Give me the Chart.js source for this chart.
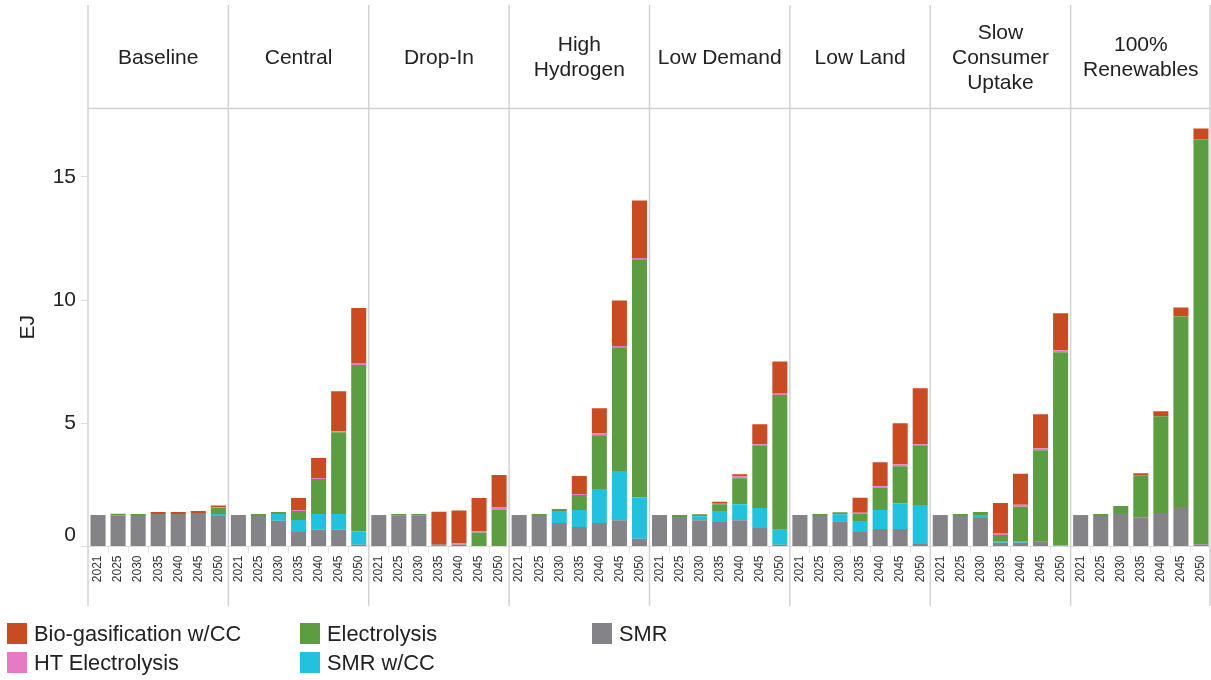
<!DOCTYPE html>
<html>
<head>
<meta charset="utf-8">
<script src="https://cdn.jsdelivr.net/npm/chart.js@4"></script>
<style>
  body { margin: 0; background: #fff; font-family: "Liberation Sans", Arial, sans-serif; }
  #wrap { position: relative; width: 1211px; height: 680px; }
  #legend { position: absolute; left: 0; top: 0; width: 1211px; height: 680px; pointer-events: none; }
  .item { position: absolute; height: 22px; line-height: 22px; font-size: 21.8px; color: #222; white-space: nowrap; }
  .item i { position: absolute; left: 0; top: 0; width: 20px; height: 21px; }
  .item span { position: absolute; left: 27px; top: 0; }
</style>
</head>
<body>
<div id="wrap">
  <canvas id="myChart" width="1211" height="680"></canvas>
  <div id="legend"></div>
</div>
<script>
// facets and years
const scenarios = ["Baseline", "Central", "Drop-In", "High\nHydrogen", "Low Demand", "Low Land", "Slow\nConsumer\nUptake", "100%\nRenewables"];
const years = ["2021", "2025", "2030", "2035", "2040", "2045", "2050"];
const yTicks = [0, 5, 10, 15];

// EJ, one row per scenario (same order as scenarios)
const smr = [
  [1.28, 1.27, 1.24, 1.32, 1.32, 1.36, 1.24],
  [1.28, 1.24, 1.05, 0.59, 0.68, 0.68, 0.07],
  [1.28, 1.25, 1.25, 0, 0, 0, 0],
  [1.28, 1.24, 0.95, 0.79, 0.95, 1.07, 0.31],
  [1.28, 1.20, 1.07, 0.99, 1.07, 0.75, 0.07],
  [1.28, 1.24, 1.03, 0.59, 0.71, 0.71, 0.10],
  [1.28, 1.24, 1.16, 0.15, 0.15, 0.18, 0],
  [1.28, 1.24, 1.32, 1.19, 1.36, 1.60, 0.08]
];
const smrCC = [
  [0, 0, 0, 0, 0, 0, 0.08],
  [0, 0, 0.27, 0.49, 0.64, 0.64, 0.54],
  [0, 0, 0, 0.07, 0, 0, 0],
  [0, 0, 0.49, 0.69, 1.38, 1.99, 1.69],
  [0, 0, 0.16, 0.45, 0.65, 0.81, 0.61],
  [0, 0, 0.28, 0.45, 0.77, 1.05, 1.58],
  [0, 0, 0.12, 0.04, 0.04, 0.04, 0.04],
  [0, 0, 0, 0, 0, 0, 0]
];
const electrolysis = [
  [0, 0.06, 0.08, 0, 0, 0, 0.24],
  [0, 0.08, 0.08, 0.36, 1.42, 3.32, 6.76],
  [0, 0.07, 0.07, 0, 0.07, 0.57, 1.50],
  [0, 0.08, 0.08, 0.61, 2.19, 5.03, 9.66],
  [0, 0.08, 0.08, 0.28, 1.05, 2.55, 5.47],
  [0, 0.08, 0.08, 0.30, 0.89, 1.50, 2.43],
  [0, 0.08, 0.12, 0.28, 1.42, 3.69, 7.85],
  [0, 0.08, 0.32, 1.70, 3.93, 7.74, 16.44]
];
const htElectrolysis = [
  [0, 0, 0, 0, 0, 0, 0.02],
  [0, 0, 0, 0.04, 0.04, 0.04, 0.08],
  [0, 0, 0, 0, 0.05, 0.04, 0.08],
  [0, 0, 0, 0.04, 0.08, 0.05, 0.05],
  [0, 0, 0, 0.02, 0.08, 0.04, 0.08],
  [0, 0, 0, 0.03, 0.08, 0.08, 0.04],
  [0, 0, 0, 0.08, 0.08, 0.08, 0.08],
  [0, 0, 0, 0, 0, 0, 0]
];
const bioGas = [
  [0, 0, 0, 0.08, 0.08, 0.08, 0.08],
  [0, 0, 0, 0.49, 0.81, 1.62, 2.23],
  [0, 0, 0, 1.34, 1.34, 1.36, 1.32],
  [0, 0, 0, 0.73, 1.01, 1.85, 2.34],
  [0, 0, 0, 0.08, 0.08, 0.81, 1.28],
  [0, 0, 0, 0.61, 0.97, 1.66, 2.27],
  [0, 0, 0, 1.22, 1.26, 1.38, 1.50],
  [0, 0, 0, 0.08, 0.20, 0.36, 0.45]
];

const FONT = '"Liberation Sans", Arial, sans-serif';
const labels = [];
scenarios.forEach(s => years.forEach(y => labels.push(y)));

// bottom of stack first
const series = [
  { label: "SMR", data: smr, color: "#838388" },
  { label: "SMR w/CC", data: smrCC, color: "#22C2DF" },
  { label: "Electrolysis", data: electrolysis, color: "#5C9D42" },
  { label: "HT Electrolysis", data: htElectrolysis, color: "#E57BC2" },
  { label: "Bio-gasification w/CC", data: bioGas, color: "#C94B22" }
];

// facet frame + titles
const facetPlugin = {
  id: "facets",
  afterDraw(chart) {
    const ctx = chart.ctx;
    const x = chart.scales.x;
    const top = chart.chartArea.top;
    ctx.save();
    ctx.strokeStyle = "#d3d3d3";
    ctx.lineWidth = 1.5;
    for (let i = 0; i <= scenarios.length; i++) {
      let px = x.getPixelForValue(i * 7 - 0.5);
      if (i == scenarios.length) px -= 1;
      ctx.beginPath();
      ctx.moveTo(px, 5);
      ctx.lineTo(px, 606);
      ctx.stroke();
    }
    ctx.beginPath();
    ctx.moveTo(x.getPixelForValue(-0.5), top + 0.5);
    ctx.lineTo(1211, top + 0.5);
    ctx.stroke();

    // the zero label sits a bit above its tick in the original
    const y = chart.scales.y;
    ctx.fillStyle = "#222";
    ctx.font = "21px " + FONT;
    ctx.textAlign = "right";
    ctx.textBaseline = "middle";
    ctx.fillText("0", 76, y.getPixelForValue(0) - 11);

    ctx.font = "21px " + FONT;
    ctx.textAlign = "center";
    scenarios.forEach((s, i) => {
      const cx = (x.getPixelForValue(i * 7) + x.getPixelForValue(i * 7 + 6)) / 2;
      const lines = s.split("\n");
      lines.forEach((l, j) => {
        ctx.fillText(l, cx, 58 + (j - (lines.length - 1) / 2) * 25);
      });
    });
    ctx.restore();
  }
};

var ctx = document.getElementById('myChart');
var myChart = new Chart(ctx, {
  type: 'bar',
  data: {
    labels: labels,
    datasets: series.map(s => ({
      label: s.label,
      data: s.data.flat(),
      backgroundColor: s.color,
      borderWidth: 0,
      barPercentage: 0.75,
      categoryPercentage: 1
    }))
  },
  options: {
    responsive: false,
    animation: false,
    layout: { padding: { top: 108, left: 0, right: 0, bottom: 0 } },
    plugins: { legend: { display: false }, tooltip: { enabled: false } },
    scales: {
      x: {
        stacked: true,
        afterFit(scale) { scale.height = 133.5; scale.paddingLeft = 0; scale.paddingRight = 0; },
        grid: { drawOnChartArea: false, tickLength: 7, color: "#e6e6e6" },
        border: { color: "#dcdcdc" },
        ticks: {
          autoSkip: false, maxRotation: 90, minRotation: 90,
          color: "#333", font: { size: 12, family: FONT }, padding: 2
        }
      },
      y: {
        stacked: true,
        min: 0,
        max: 17.8,
        afterFit(scale) { scale.width = 88; },
        afterBuildTicks(scale) { scale.ticks = yTicks.map(v => ({ value: v })); },
        grid: { drawOnChartArea: false, tickLength: 7, color: "#dcdcdc" },
        border: { display: false },
        ticks: {
          color: "#222", font: { size: 21, family: FONT }, padding: 5,
          callback: v => (v === 0 ? "" : v)
        },
        title: {
          display: true, text: "EJ", color: "#222",
          font: { size: 21, family: FONT }, padding: { top: 16, bottom: 0 }
        }
      }
    }
  },
  plugins: [facetPlugin]
});

// legend, laid out column-wise like the original
const legendOrder = ["Bio-gasification w/CC", "HT Electrolysis", "Electrolysis", "SMR w/CC", "SMR"];
const legendCols = [7, 300, 592];
const legendRows = [623, 652];
const legend = document.getElementById('legend');
legendOrder.forEach((name, k) => {
  const s = series.find(d => d.label === name);
  const div = document.createElement('div');
  div.className = 'item';
  div.style.left = legendCols[Math.floor(k / 2)] + 'px';
  div.style.top = legendRows[k % 2] + 'px';
  div.innerHTML = '<i style="background:' + s.color + '"></i><span>' + name + '</span>';
  legend.appendChild(div);
});
</script>
</body>
</html>
